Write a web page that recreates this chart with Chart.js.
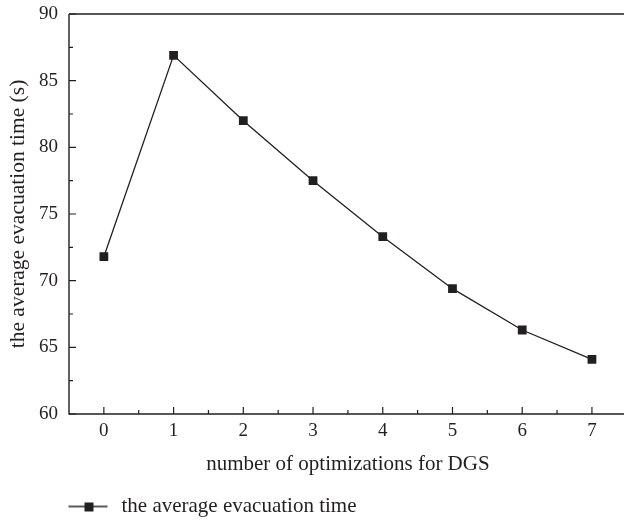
<!DOCTYPE html>
<html>
<head>
<meta charset="utf-8">
<script src="https://cdn.jsdelivr.net/npm/chart.js@4"></script>
<style>
  html, body { margin: 0; padding: 0; overflow: hidden; background: #fff; }
  canvas { display: block; }
</style>
</head>
<body>
<canvas id="evacChart" width="633" height="523"></canvas>
<script>
const optimizations = ['0', '1', '2', '3', '4', '5', '6', '7'];
const avgEvacTime = [71.8, 86.9, 82.0, 77.5, 73.3, 69.4, 66.3, 64.1];
const yTicks = [60, 65, 70, 75, 80, 85, 90];

const ink = '#231f20';
const serif = "'Liberation Serif', 'DejaVu Serif', serif";

// legend symbol: short line with a square on it
const legendMark = document.createElement('canvas');
legendMark.width = 100;
legendMark.height = 12;
const lm = legendMark.getContext('2d');
lm.strokeStyle = ink;
lm.lineWidth = 1.3;
lm.beginPath();
lm.moveTo(60, 6);
lm.lineTo(99, 6);
lm.stroke();
lm.fillStyle = ink;
lm.fillRect(76, 2, 9, 9);

// frame + inward ticks, drawn from the scales
const frameTicks = {
    id: 'frameTicks',
    afterDraw(chart) {
        const { ctx, chartArea: a, scales: { x, y } } = chart;
        ctx.save();
        ctx.strokeStyle = ink;
        ctx.lineWidth = 1.4;
        ctx.beginPath();
        ctx.moveTo(a.left, a.top);
        ctx.lineTo(a.left, a.bottom);
        ctx.lineTo(a.right, a.bottom);
        ctx.moveTo(a.left, a.top);
        ctx.lineTo(a.right, a.top);
        ctx.stroke();

        ctx.lineWidth = 1.2;
        ctx.beginPath();
        optimizations.forEach((_, i) => {
            const px = x.getPixelForValue(i);
            ctx.moveTo(px, a.bottom);
            ctx.lineTo(px, a.bottom - 7);
            const mid = px + (x.getPixelForValue(1) - x.getPixelForValue(0)) / 2;
            if (mid < a.right) {
                ctx.moveTo(mid, a.bottom);
                ctx.lineTo(mid, a.bottom - 4);
            }
        });
        yTicks.forEach((v, i) => {
            const py = y.getPixelForValue(v);
            ctx.moveTo(a.left, py);
            ctx.lineTo(a.left + 7, py);
            if (i < yTicks.length - 1) {
                const pm = y.getPixelForValue(v + 2.5);
                ctx.moveTo(a.left, pm);
                ctx.lineTo(a.left + 4, pm);
            }
        });
        ctx.stroke();
        ctx.restore();
    }
};

new Chart(document.getElementById('evacChart'), {
    type: 'line',
    data: {
        labels: optimizations,
        datasets: [{
            label: 'the average evacuation time',
            data: avgEvacTime,
            borderColor: ink,
            backgroundColor: ink,
            borderWidth: 1.3,
            pointStyle: 'rect',
            pointRadius: 6.2,
            pointHoverRadius: 6.2,
            pointBackgroundColor: ink,
            pointBorderWidth: 0,
            tension: 0
        }]
    },
    options: {
        responsive: false,
        animation: false,
        devicePixelRatio: 1,
        layout: { padding: { top: 14, left: 0, right: 0, bottom: -4 } },
        scales: {
            x: {
                type: 'category',
                offset: true,
                grid: { display: false, drawTicks: false },
                border: { display: false },
                ticks: { color: ink, font: { family: serif, size: 19 }, padding: 6, maxRotation: 0 },
                title: {
                    display: true,
                    text: 'number of optimizations for DGS',
                    color: ink,
                    font: { family: serif, size: 21 },
                    padding: { top: 0, bottom: 13 }
                },
                afterFit(s) {
                    s.height = 76;
                    s.paddingLeft = 0;
                    s.paddingRight = 0;
                }
            },
            y: {
                min: 60,
                max: 90,
                grid: { display: false, drawTicks: false },
                border: { display: false },
                ticks: { stepSize: 5, color: ink, font: { family: serif, size: 19 }, padding: 11 },
                title: {
                    display: true,
                    text: 'the average evacuation time (s)',
                    color: ink,
                    font: { family: serif, size: 21.5 },
                    padding: { top: 5, bottom: 0 }
                },
                afterFit(s) {
                    s.width = 69;
                    s.paddingTop = 0;
                    s.paddingBottom = 0;
                }
            }
        },
        plugins: {
            legend: {
                position: 'bottom',
                align: 'start',
                labels: {
                    usePointStyle: true,
                    pointStyle: legendMark,
                    pointStyleWidth: 105,
                    color: ink,
                    font: { family: serif, size: 21 },
                    padding: 6
                }
            },
            tooltip: { enabled: false }
        }
    },
    plugins: [frameTicks]
});
</script>
</body>
</html>
